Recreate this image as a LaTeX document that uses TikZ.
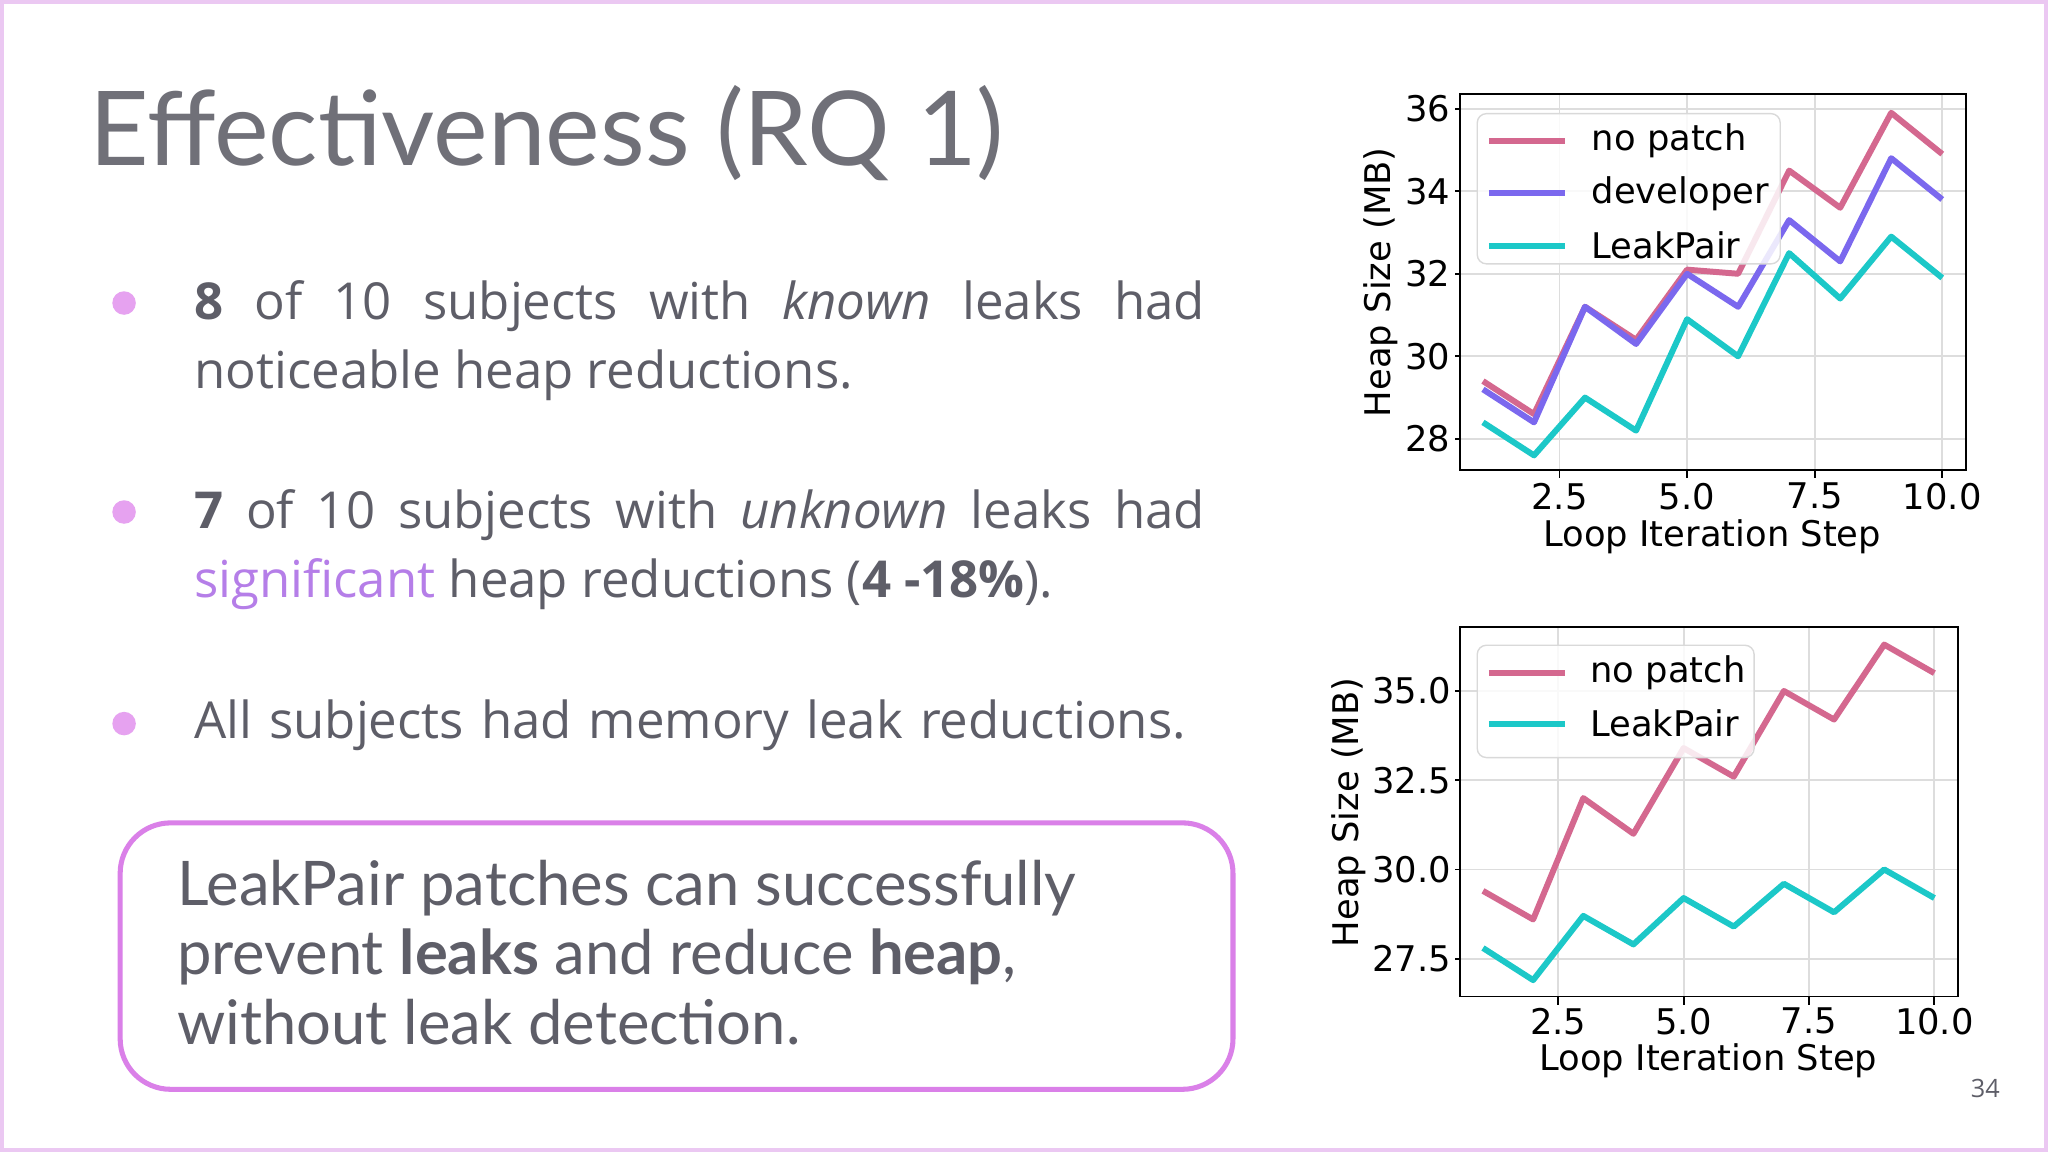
\documentclass[tikz,border=0pt]{standalone}
\usepackage{fontspec}
\setmainfont{Lato}
\newfontfamily\dejavu{DejaVu Sans}
\newfontfamily\osans{Open Sans}
\definecolor{txt}{HTML}{5E5E68}
\definecolor{ttl}{HTML}{707078}
\definecolor{frame}{HTML}{EBC8F2}
\definecolor{bul}{HTML}{E6A2F0}
\definecolor{boxc}{HTML}{DA80E8}
\definecolor{sig}{HTML}{B57EE8}
\definecolor{cpink}{HTML}{D4688F}
\definecolor{cdev}{HTML}{7B68EE}
\definecolor{ccyan}{HTML}{1CC8C8}
\definecolor{gridc}{HTML}{DDDDDD}
\begin{document}
\begin{tikzpicture}[x=0.1mm,y=-0.1mm,
  tick/.style={font=\dejavu\fontsize{7.7}{9}\selectfont,text=black,inner sep=0pt},
  series/.style={line width=1.3pt,line join=round},
  legbox/.style={draw=gray!30,fill=white,fill opacity=0.85,rounded corners=2pt,line width=0.3pt},
  bullet/.style={circle,fill=bul,minimum size=5mm*0.36,inner sep=0pt},
  btext/.style={anchor=north west,text width=77.4mm,align=justify,inner sep=0pt,font=\osans\fontsize{11.1}{15.1}\selectfont,text=txt}]
\useasboundingbox (0,0) rectangle (1568,882);
\fill[white] (0,0) rectangle (1568,882);
\draw[frame,line width=1pt] (1.5,1.5) rectangle (1566.5,880.5);
% title
\node[anchor=base west,inner sep=0pt,text=ttl,font=\fontsize{22.5}{26}\selectfont] (title) at (68,127) {Effectiveness (RQ 1)};
% bullets
\node[bullet] (b1) at (95,232) {};
\node[bullet] (b2) at (95,392) {};
\node[bullet] (b3) at (95,554) {};
\node[btext] (t1) at (148,214) {\textbf{8} of 10 subjects with \textit{known} leaks had\linebreak noticeable heap reductions.};
\node[btext] (t2) at (148,374) {\textbf{7} of 10 subjects with \textit{unknown} leaks had\linebreak \textcolor{sig}{significant} heap reductions (\textbf{4 -18\%}).};
\node[btext,text width=90mm,align=left] (t3) at (148,535) {All subjects had memory leak reductions.};
% box
\draw[boxc,line width=1.1pt,rounded corners=11pt] (92,630) rectangle (944,834);
\node[anchor=north west,inner sep=0pt,align=left,text=txt,font=\fontsize{13.4}{15.1}\selectfont] (box) at (135,658) {LeakPair patches can successfully\\prevent \textbf{leaks} and reduce \textbf{heap},\\without leak detection.};
% ---------- top chart
\begin{scope}[shift={(1135.4,336)},x=3.907mm,y=3.16mm]
\begin{scope}[shift={(-1,-28)}]
\foreach \v in {2.5,5,7.5,10} \draw[gridc,line width=0.4pt] (\v,27.24) -- (\v,36.35);
\foreach \v in {28,30,32,34,36} \draw[gridc,line width=0.4pt] (0.555,\v) -- (10.46,\v);
\draw[series,cpink] plot coordinates {(1,29.4)(2,28.6)(3,31.2)(4,30.4)(5,32.1)(6,32.0)(7,34.5)(8,33.6)(9,35.9)(10,34.9)};
\draw[series,cdev] plot coordinates {(1,29.2)(2,28.4)(3,31.2)(4,30.3)(5,32.0)(6,31.2)(7,33.3)(8,32.3)(9,34.8)(10,33.8)};
\draw[series,ccyan] plot coordinates {(1,28.4)(2,27.6)(3,29.0)(4,28.2)(5,30.9)(6,30.0)(7,32.5)(8,31.4)(9,32.9)(10,31.9)};
\draw[black,line width=0.4pt] (0.555,27.24) rectangle (10.46,36.35);
\foreach \v in {2.5,5.0,7.5,10.0} {\draw (\v,27.24) -- ++(0,-0.2); \node[tick,anchor=north] at (\v,26.95) {\v};}
\foreach \v in {28,30,32,34,36} {\draw (0.555,\v) -- ++(-0.1,0); \node[tick,anchor=east] at (0.38,\v) {\v};}
\end{scope}
\end{scope}
\draw[legbox] (1131,87) rectangle (1363,202);
\draw[cpink,line width=1.3pt] (1140,108) -- (1198,108);
\draw[cdev,line width=1.3pt] (1140,148) -- (1198,148);
\draw[ccyan,line width=1.3pt] (1140,188) -- (1198,188);
\node[tick,anchor=west] (l1) at (1218,108) {no patch};
\node[tick,anchor=west] (l2) at (1218,148) {developer};
\node[tick,anchor=west] (l3) at (1218,188) {LeakPair};
\node[tick,rotate=90] (ya) at (1057,216) {Heap Size (MB)};
\node[tick] (xa) at (1311,411) {Loop Iteration Step};
% ---------- bottom chart
\begin{scope}[shift={(1135.4,734)},x=3.84mm,y=2.733mm]
\begin{scope}[shift={(-1,-27.5)}]
\foreach \v in {2.5,5,7.5,10} \draw[gridc,line width=0.4pt] (\v,26.44) -- (\v,36.79);
\foreach \v in {27.5,30.0,32.5,35.0} \draw[gridc,line width=0.4pt] (0.547,\v) -- (10.47,\v);
\draw[series,cpink] plot coordinates {(1,29.4)(2,28.6)(3,32.0)(4,31.0)(5,33.4)(6,32.6)(7,35.0)(8,34.2)(9,36.3)(10,35.5)};
\draw[series,ccyan] plot coordinates {(1,27.8)(2,26.9)(3,28.7)(4,27.9)(5,29.2)(6,28.4)(7,29.6)(8,28.8)(9,30.0)(10,29.2)};
\draw[black,line width=0.4pt] (0.547,26.44) rectangle (10.47,36.79);
\foreach \v in {2.5,5.0,7.5,10.0} {\draw (\v,26.44) -- ++(0,-0.25); \node[tick,anchor=north] at (\v,26.15) {\v};}
\foreach \v in {27.5,30.0,32.5,35.0} {\draw (0.547,\v) -- ++(-0.1,0); \node[tick,anchor=east] at (0.38,\v) {\v};}
\end{scope}
\end{scope}
\draw[legbox] (1131,494) rectangle (1343,580);
\draw[cpink,line width=1.3pt] (1140,515) -- (1198,515);
\draw[ccyan,line width=1.3pt] (1140,554) -- (1198,554);
\node[tick,anchor=west] (m1) at (1217,515) {no patch};
\node[tick,anchor=west] (m2) at (1217,554) {LeakPair};
\node[tick,rotate=90] (yb) at (1033,622) {Heap Size (MB)};
\node[tick] (xb) at (1308,812) {Loop Iteration Step};
\node[text=txt,font=\osans\fontsize{5.5}{7}\selectfont] (pg) at (1520,833) {34};
\end{tikzpicture}
\end{document}
